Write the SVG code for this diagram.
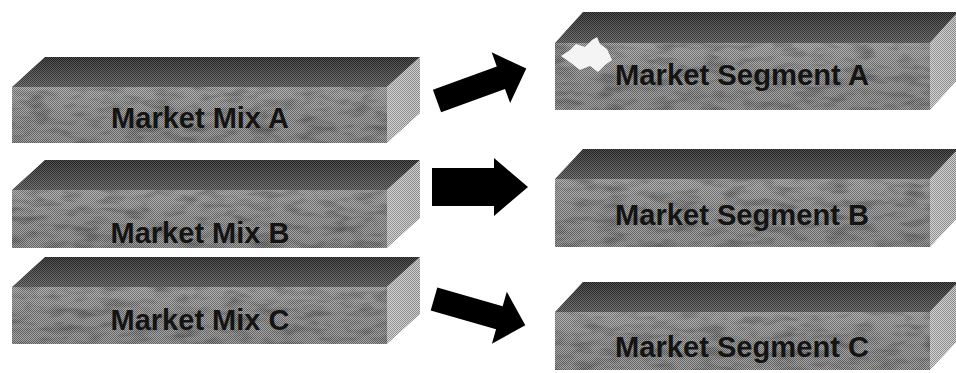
<svg xmlns="http://www.w3.org/2000/svg" width="956" height="373" viewBox="0 0 956 373">
<defs>
<linearGradient id="gTop" x1="0" y1="0" x2="0" y2="1">
<stop offset="0" stop-color="#2e2e2e"/>
<stop offset="1" stop-color="#606060"/>
</linearGradient>
<linearGradient id="gFront" x1="0" y1="0" x2="0" y2="1">
<stop offset="0" stop-color="#a8a8a8"/>
<stop offset="0.5" stop-color="#969696"/>
<stop offset="1" stop-color="#929292"/>
</linearGradient>
<linearGradient id="gSide" x1="0" y1="0" x2="1" y2="0">
<stop offset="0" stop-color="#d0d0d0"/>
<stop offset="1" stop-color="#c4c4c4"/>
</linearGradient>
<pattern id="checker" patternUnits="userSpaceOnUse" width="2" height="2">
<rect x="0" y="0" width="1" height="1" fill="#000" fill-opacity="0.3"/>
<rect x="1" y="1" width="1" height="1" fill="#000" fill-opacity="0.3"/>
<rect x="1" y="0" width="1" height="1" fill="#fff" fill-opacity="0.15"/>
<rect x="0" y="1" width="1" height="1" fill="#fff" fill-opacity="0.15"/>
</pattern>
<filter id="mottle" x="0" y="0" width="1" height="1">
<feTurbulence type="fractalNoise" baseFrequency="0.04 0.12" numOctaves="3" seed="4" result="n"/>
<feColorMatrix in="n" type="matrix" values="0 0 0 0 0  0 0 0 0 0  0 0 0 0 0  0 0 0 0.7 -0.3" result="a"/>
<feComposite in="a" in2="SourceGraphic" operator="in"/>
</filter>
<style>
.top{fill:url(#gTop)}
.front{fill:url(#gFront)}
.side{fill:url(#gSide)}
.dither{fill:url(#checker)}
.mot{fill:#000;filter:url(#mottle)}
.label{font-family:"Liberation Sans",Arial,sans-serif;font-size:29px;font-weight:bold;fill:#141414;text-anchor:middle}
.arrow{fill:#000}
</style>
</defs>
<rect width="956" height="373" fill="#fff"/>

<g id="mix-a">
<polygon class="top" points="12,87 45,57 420,57 387,87"/>
<rect class="front" x="12" y="87" width="375" height="56"/>
<rect class="mot" x="12" y="87" width="375" height="56"/>
<polygon class="side" points="387,87 420,57 420,113 387,143"/>
<polygon class="dither" points="12,87 45,57 420,57 420,113 387,143 12,143"/>
<text class="label" x="200" y="128">Market Mix A</text>
</g>

<g id="mix-b">
<polygon class="top" points="12,190 45,160 420,160 387,190"/>
<rect class="front" x="12" y="190" width="375" height="58"/>
<rect class="mot" x="12" y="190" width="375" height="58"/>
<polygon class="side" points="387,190 420,160 420,218 387,248"/>
<polygon class="dither" points="12,190 45,160 420,160 420,218 387,248 12,248"/>
<text class="label" x="200" y="243">Market Mix B</text>
</g>

<g id="mix-c">
<polygon class="top" points="12,287 45,257 420,257 387,287"/>
<rect class="front" x="12" y="287" width="375" height="57"/>
<rect class="mot" x="12" y="287" width="375" height="57"/>
<polygon class="side" points="387,287 420,257 420,314 387,344"/>
<polygon class="dither" points="12,287 45,257 420,257 420,314 387,344 12,344"/>
<text class="label" x="200" y="330">Market Mix C</text>
</g>

<g id="segment-a">
<polygon class="top" points="555,43 583,12 958,12 930,43"/>
<rect class="front" x="555" y="43" width="375" height="67"/>
<rect class="mot" x="555" y="43" width="375" height="67"/>
<polygon class="side" points="930,43 958,12 958,79 930,110"/>
<polygon class="dither" points="555,43 583,12 958,12 958,79 930,110 555,110"/>
<path d="M561,56 L570,50 L576,44 L585,47 L592,40 L597,37 L600,44 L607,49 L612,60 L605,65 L598,72 L590,66 L580,70 L571,63 Z" fill="#f4f4f4"/>
<text class="label" x="742" y="85" textLength="254" lengthAdjust="spacingAndGlyphs">Market Segment A</text>
</g>

<g id="segment-b">
<polygon class="top" points="555,179 583,149 958,149 930,179"/>
<rect class="front" x="555" y="179" width="375" height="68"/>
<rect class="mot" x="555" y="179" width="375" height="68"/>
<polygon class="side" points="930,179 958,149 958,217 930,247"/>
<polygon class="dither" points="555,179 583,149 958,149 958,217 930,247 555,247"/>
<text class="label" x="742" y="225" textLength="254" lengthAdjust="spacingAndGlyphs">Market Segment B</text>
</g>

<g id="segment-c">
<polygon class="top" points="555,312 583,282 958,282 930,312"/>
<rect class="front" x="555" y="312" width="375" height="58"/>
<rect class="mot" x="555" y="312" width="375" height="58"/>
<polygon class="side" points="930,312 958,282 958,340 930,370"/>
<polygon class="dither" points="555,312 583,282 958,282 958,340 930,370 555,370"/>
<text class="label" x="742" y="357" textLength="254" lengthAdjust="spacingAndGlyphs">Market Segment C</text>
</g>

<g id="connectors">
<polygon class="arrow" transform="translate(437,101) rotate(-20)" points="0,-12 68,-12 68,-27 95,0 68,27 68,12 0,12"/>
<polygon class="arrow" transform="translate(432,187)" points="0,-19 62,-19 62,-29 96,0 62,29 62,19 0,19"/>
<polygon class="arrow" transform="translate(434,299) rotate(16)" points="0,-12 68,-12 68,-27 95,0 68,27 68,12 0,12"/>
</g>
</svg>
